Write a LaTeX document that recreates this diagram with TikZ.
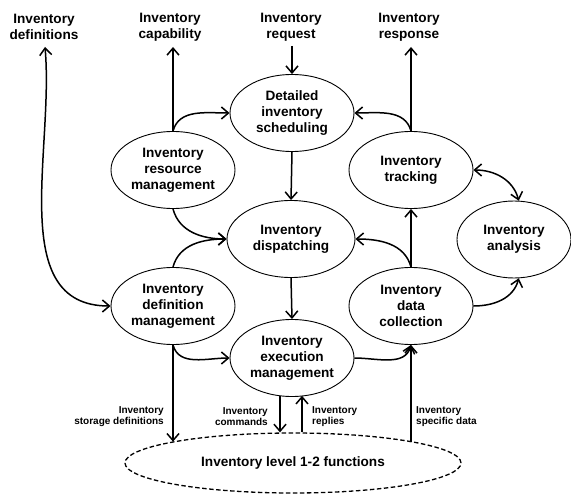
\documentclass[tikz,border=0pt]{standalone}
\usepackage{fontspec}
\setmainfont{Liberation Sans}
\usetikzlibrary{arrows.meta,shapes.geometric,calc}

\tikzset{
  func/.style={ellipse, draw, line width=0.9pt, inner sep=0pt,
    minimum width=124pt, minimum height=77pt, align=center,
    font=\bfseries\fontsize{13.6}{16}\selectfont},
  ext/.style={align=center, inner sep=0pt,
    font=\bfseries\fontsize{13.6}{16}\selectfont},
  flowlabel/.style={inner sep=0pt, font=\bfseries\fontsize{10}{11}\selectfont},
  flow/.style={line width=1.5pt, -{Straight Barb[length=7pt,width=12pt]}},
  bothflow/.style={line width=1.5pt, {Straight Barb[length=7pt,width=12pt]}-{Straight Barb[length=7pt,width=12pt]}}
}

\begin{document}
\begin{tikzpicture}[x=1pt,y=-1pt]
\useasboundingbox (0,0) rectangle (571,495);

% external flows at the top
\node[ext] (defs) at (44,27)  {Inventory\\definitions};
\node[ext] (capa) at (170,27) {Inventory\\capability};
\node[ext] (reqs) at (291,27) {Inventory\\request};
\node[ext] (resp) at (409,27) {Inventory\\response};
\coordinate (defsTip) at (45,47);
\coordinate (capaTip) at (173,47);
\coordinate (reqsTip) at (292,46);
\coordinate (respTip) at (411,47);

% activities
\node[func] (ds) at (292,113) {Detailed\\inventory\\scheduling};
\node[func] (rm) at (173,170) {Inventory\\resource\\management};
\node[func] (tr) at (411,170) {Inventory\\tracking};
\node[func, minimum width=128pt] (dp) at (291,239) {Inventory\\dispatching};
\node[func, minimum width=114pt] (an) at (514,239.5) {Inventory\\analysis};
\node[func] (dm) at (173,306) {Inventory\\definition\\management};
\node[func] (dc) at (411,306) {Inventory\\data\\collection};
\node[func] (em) at (292,358) {Inventory\\execution\\management};

% lower level functions
\node[ellipse, draw, dash pattern=on 4.5pt off 2.5pt, line width=1.3pt,
      minimum width=336pt, minimum height=60pt, inner sep=0pt,
      font=\bfseries\fontsize{13.6}{16}\selectfont] (lf) at (293,463)
      {Inventory level 1-2 functions};

% flows between activities
\draw[flow] (rm.north) -- (rm.north |- capaTip);
\draw[flow] (rm.north) to[out=75,in=180] (ds.west);
\draw[flow] (reqsTip -| ds.north) -- (ds.north);
\draw[flow] (ds.south) -- (dp.north);
\draw[flow] (tr.north) -- (tr.north |- respTip);
\draw[flow] (tr.north) to[out=105,in=0] (ds.east);
\draw[bothflow] (tr.east) to[out=0,in=105] (an.83);
\draw[flow] (rm.south) to[out=-75,in=180] (dp.west);
\draw[flow] (dm.north) to[out=75,in=180] (dp.west);
\draw[bothflow] (defsTip) to[out=-85,in=180] (dm.west);
\draw[flow] (dp.south) -- (em.north);
\draw[flow] (dc.north) -- (tr.south);
\draw[flow] (dc.north) to[out=105,in=0] (dp.east);
\draw[flow] (dc.east) to[out=0,in=-105] (an.277);
\draw[flow] (dm.south) to[out=-75,in=180] (em.west);
\draw[flow] (em.east) to[out=0,in=-105] (dc.south);

% flows to and from the lower level
\coordinate (cmdTop) at ($(em.center)+(-12,37.7)$);
\coordinate (cmdEnd) at (cmdTop |- lf.north);
\coordinate (repTop) at ($(em.center)+(10,37.8)$);
\coordinate (repEnd) at (repTop |- lf.north);
\draw[flow] (dm.south) -- (dm.south |- lf.170.1);
\draw[flow] (cmdTop) -- (cmdEnd);
\draw[flow] (repEnd) -- (repTop);
\draw[flow] (dc.south |- lf.10.3) -- (dc.south);

% flow labels
\node[flowlabel, align=right, anchor=east] (lsd) at (164,417) {Inventory\\storage definitions};
\node[flowlabel, align=right, anchor=east] (lcm) at (268,417) {Inventory\\commands};
\node[flowlabel, align=left, anchor=west] (lrp) at (312,417) {Inventory\\replies};
\node[flowlabel, align=left, anchor=west] (lsp) at (416,417) {Inventory\\specific data};
\end{tikzpicture}
\end{document}
